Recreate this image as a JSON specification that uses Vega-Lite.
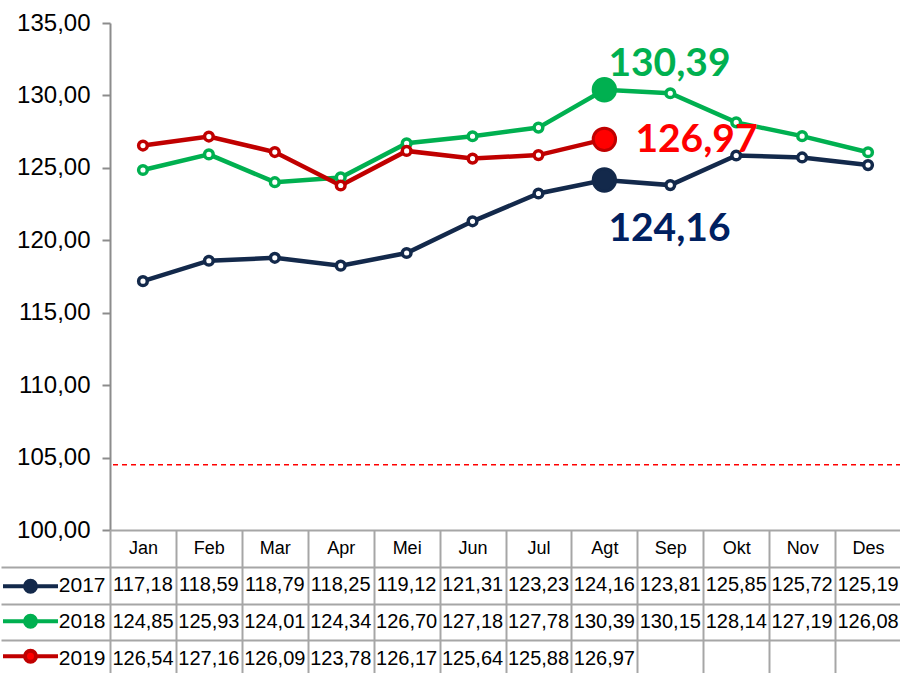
{
  "$schema": "https://vega.github.io/schema/vega-lite/v6.json",
  "padding": {"left": 0, "top": 11, "right": 0, "bottom": 0},
  "background": "white",
  "spacing": 0,
  "bounds": "flush",
  "config": {
    "locale": {"number": {"decimal": ",", "thousands": ".", "grouping": [3], "currency": ["Rp", ""]}},
    "view": {"stroke": null},
    "font": "Liberation Sans"
  },
  "datasets": {
    "idx": [
      {"year": "2017", "month": "Jan", "value": 117.18},
      {"year": "2017", "month": "Feb", "value": 118.59},
      {"year": "2017", "month": "Mar", "value": 118.79},
      {"year": "2017", "month": "Apr", "value": 118.25},
      {"year": "2017", "month": "Mei", "value": 119.12},
      {"year": "2017", "month": "Jun", "value": 121.31},
      {"year": "2017", "month": "Jul", "value": 123.23},
      {"year": "2017", "month": "Agt", "value": 124.16},
      {"year": "2017", "month": "Sep", "value": 123.81},
      {"year": "2017", "month": "Okt", "value": 125.85},
      {"year": "2017", "month": "Nov", "value": 125.72},
      {"year": "2017", "month": "Des", "value": 125.19},
      {"year": "2018", "month": "Jan", "value": 124.85},
      {"year": "2018", "month": "Feb", "value": 125.93},
      {"year": "2018", "month": "Mar", "value": 124.01},
      {"year": "2018", "month": "Apr", "value": 124.34},
      {"year": "2018", "month": "Mei", "value": 126.70},
      {"year": "2018", "month": "Jun", "value": 127.18},
      {"year": "2018", "month": "Jul", "value": 127.78},
      {"year": "2018", "month": "Agt", "value": 130.39},
      {"year": "2018", "month": "Sep", "value": 130.15},
      {"year": "2018", "month": "Okt", "value": 128.14},
      {"year": "2018", "month": "Nov", "value": 127.19},
      {"year": "2018", "month": "Des", "value": 126.08},
      {"year": "2019", "month": "Jan", "value": 126.54},
      {"year": "2019", "month": "Feb", "value": 127.16},
      {"year": "2019", "month": "Mar", "value": 126.09},
      {"year": "2019", "month": "Apr", "value": 123.78},
      {"year": "2019", "month": "Mei", "value": 126.17},
      {"year": "2019", "month": "Jun", "value": 125.64},
      {"year": "2019", "month": "Jul", "value": 125.88},
      {"year": "2019", "month": "Agt", "value": 126.97}
    ],
    "refline": [{"ref": 104.5}]
  },
  "vconcat": [
    {
      "width": 791,
      "height": 507,
      "layer": [
        {
          "data": {"name": "idx"},
          "encoding": {
            "x": {"field": "month", "type": "nominal", "sort": ["Jan","Feb","Mar","Apr","Mei","Jun","Jul","Agt","Sep","Okt","Nov","Des"], "scale": {"type": "point", "padding": 0.5}, "axis": null},
            "y": {"field": "value", "type": "quantitative", "scale": {"domain": [100, 135], "nice": false, "zero": false},
              "axis": {"title": null, "values": [100,105,110,115,120,125,130,135], "format": ".2f", "labelFontSize": 24, "labelColor": "black", "domainColor": "#8C8C8C", "domainWidth": 2, "tickColor": "#8C8C8C", "tickWidth": 2, "tickSize": 8, "labelPadding": 12, "grid": false}}
          },
          "layer": [
            {
              "mark": {"type": "line", "strokeWidth": 4.5},
              "encoding": {
                "color": {"field": "year", "type": "nominal", "scale": {"domain": ["2017","2018","2019"], "range": ["#13294B","#00B050","#C00000"]},
                  "legend": {"orient": "none", "legendX": -109, "legendY": 546, "title": null, "padding": 0, "rowPadding": 0, "clipHeight": 34.4, "labelExpr": "''", "symbolType": "M-1,0L-0.22,0M0.22,0L1,0M-0.2,0A0.2,0.2,0,1,1,0.2,0A0.2,0.2,0,1,1,-0.2,0Z", "symbolSize": 3025, "symbolStrokeWidth": 4, "symbolOffset": 0, "labelOffset": 0,
                    "encode": {"symbols": {"update": {"fill": {"value": "white"}, "fillOpacity": {"value": 1}, "strokeWidth": {"value": 4}}}}}}
              }
            },
            {
              "mark": {"type": "point", "shape": "circle", "filled": false, "fill": "white", "opacity": 1, "size": 75, "strokeWidth": 3.5},
              "encoding": {"color": {"field": "year", "type": "nominal"}}
            },
            {
              "transform": [{"filter": "datum.month == 'Agt'"}],
              "mark": {"type": "point", "shape": "circle", "filled": true, "opacity": 1, "size": 500, "strokeWidth": 3},
              "encoding": {
                "fill": {"field": "year", "type": "nominal", "scale": {"domain": ["2017","2018","2019"], "range": ["#13294B","#00B050","#FF0000"]}, "legend": null},
                "stroke": {"field": "year", "type": "nominal", "scale": {"domain": ["2017","2018","2019"], "range": ["#13294B","#00B050","#C00000"]}, "legend": null}
              }
            },
            {
              "transform": [{"filter": "datum.month == 'Agt' && datum.year == '2018'"}],
              "mark": {"type": "text", "font": "Lato", "fontWeight": "bold", "fontSize": 39, "align": "left", "baseline": "alphabetic", "dx": 4, "dy": -14, "color": "#00B050"},
              "encoding": {"text": {"field": "value", "type": "quantitative", "format": ".2f"}}
            },
            {
              "transform": [{"filter": "datum.month == 'Agt' && datum.year == '2019'"}],
              "mark": {"type": "text", "font": "Lato", "fontWeight": "bold", "fontSize": 39, "align": "left", "baseline": "alphabetic", "dx": 31, "dy": 13, "color": "#FF0000"},
              "encoding": {"text": {"field": "value", "type": "quantitative", "format": ".2f"}}
            },
            {
              "transform": [{"filter": "datum.month == 'Agt' && datum.year == '2017'"}],
              "mark": {"type": "text", "font": "Lato", "fontWeight": "bold", "fontSize": 39, "align": "left", "baseline": "alphabetic", "dx": 4, "dy": 61, "color": "#002060"},
              "encoding": {"text": {"field": "value", "type": "quantitative", "format": ".2f"}}
            }
          ]
        },
        {
          "data": {"name": "refline"},
          "mark": {"type": "rule", "color": "#FF0000", "strokeDash": [5, 4], "strokeWidth": 1.5},
          "encoding": {"y": {"field": "ref", "type": "quantitative"}}
        }
      ]
    },
    {
      "width": 791,
      "height": 147,
      "data": {"name": "idx"},
      "mark": {"type": "text", "fontSize": 20, "color": "black"},
      "encoding": {
        "x": {"field": "month", "type": "nominal", "sort": ["Jan","Feb","Mar","Apr","Mei","Jun","Jul","Agt","Sep","Okt","Nov","Des"], "scale": {"type": "band", "paddingInner": 0, "paddingOuter": 0},
          "axis": {"orient": "top", "title": null, "grid": true, "tickBand": "extent", "gridColor": "#A6A6A6", "gridWidth": 2, "ticks": false, "tickSize": 0, "domain": false, "labelAngle": 0, "labelFontSize": 18, "labelColor": "black", "labelPadding": -18.4, "labelBaseline": "middle"}},
        "y": {"field": "year", "type": "nominal", "scale": {"domain": ["hdr","2017","2018","2019"], "paddingInner": 0, "paddingOuter": 0},
          "axis": {"title": null, "tickBand": "extent", "grid": true, "gridColor": "#A6A6A6", "gridWidth": 2, "domain": false, "ticks": true, "tickSize": 109, "tickColor": "#A6A6A6", "tickWidth": 2,
            "tickOpacity": {"condition": {"test": "datum.index < 0", "value": 0}, "value": 1},
            "labelExpr": "datum.value === 'hdr' ? '' : datum.value", "labelFontSize": 21, "labelColor": "black", "labelPadding": -104, "labelAlign": "right", "labelBaseline": "middle"}},
        "text": {"field": "value", "type": "quantitative", "format": ".2f"}
      }
    }
  ]
}
